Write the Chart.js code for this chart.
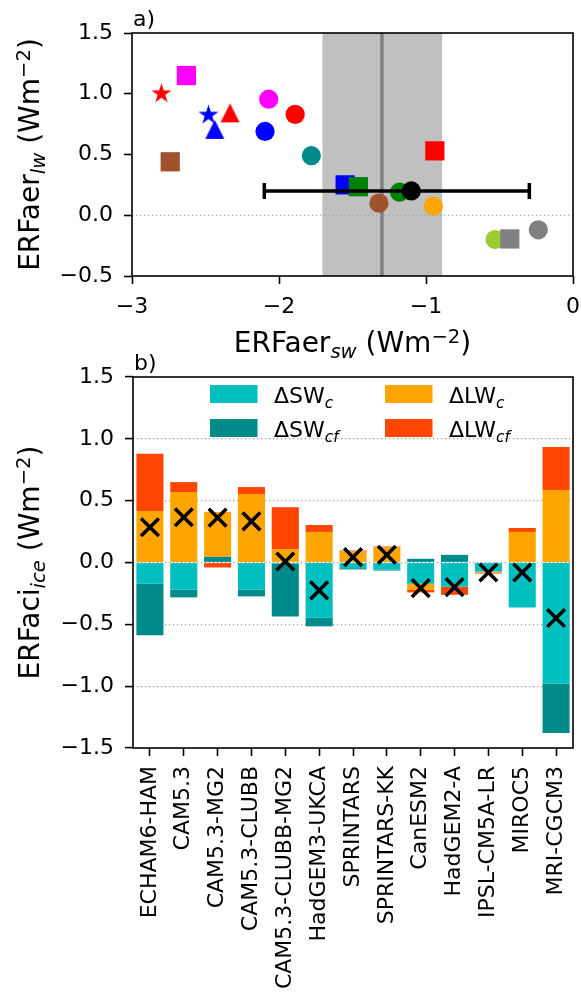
<!DOCTYPE html>
<html>
<head>
<meta charset="utf-8">
<script src="https://cdn.jsdelivr.net/npm/chart.js@4.4.1/dist/chart.umd.min.js"></script>
<style>
html,body{margin:0;padding:0;background:#fff;}
#wrap{position:relative;width:581px;height:995px;overflow:hidden;}
canvas{position:absolute;left:0;top:0;}
</style>
</head>
<body>
<div id="wrap">
<canvas id="c1" width="581" height="995" style="width:581px;height:995px"></canvas>
<canvas id="c2" width="581" height="995" style="width:581px;height:995px"></canvas>
</div>
<script>
// ---------------- DATA: panel a) ----------------
const erfaerSW = [-2.80, -2.63, -2.74, -2.48, -2.333, -2.437, -2.07, -1.89, -2.095, -1.78, -0.94, -1.55, -1.46, -1.32, -1.18, -0.95, -0.53, -0.43, -0.236];
const erfaerLW = [1.00, 1.15, 0.44, 0.825, 0.843, 0.707, 0.955, 0.83, 0.69, 0.49, 0.53, 0.25, 0.235, 0.10, 0.19, 0.076, -0.20, -0.195, -0.12];
const meanSW = -1.10;
const meanLW = 0.20;
const meanSWrange = [-2.10, -0.297];
const obsBandSW = [-1.705, -0.89];
const obsSW = -1.30;
const xTicksA = [-3, -2, -1, 0];
const yTicksA = [-0.5, 0.0, 0.5, 1.0, 1.5];

// styles of the panel a) markers (not data)
const markerColors = ['#ff0000', '#ff00ff', '#a0522d', '#0000ff', '#ff0000', '#0000ff', '#ff00ff', '#ff0000', '#0000ff', '#008b8b', '#ff0000', '#0000ff', '#008000', '#a0522d', '#008000', '#ffa500', '#9acd32', '#808080', '#808080'];
const markerShapes = ['star', 'square', 'square', 'star', 'triangle', 'triangle', 'circle', 'circle', 'circle', 'circle', 'square', 'square', 'square', 'circle', 'circle', 'circle', 'circle', 'square', 'circle'];

// ---------------- DATA: panel b) ----------------
const models = ['ECHAM6-HAM', 'CAM5.3', 'CAM5.3-MG2', 'CAM5.3-CLUBB', 'CAM5.3-CLUBB-MG2', 'HadGEM3-UKCA', 'SPRINTARS', 'SPRINTARS-KK', 'CanESM2', 'HadGEM2-A', 'IPSL-CM5A-LR', 'MIROC5', 'MRI-CGCM3'];
const dSWc  = [-0.172, -0.220, 0.000, -0.220, -0.011, -0.446, -0.046, -0.059, -0.172, -0.196, -0.073, -0.363, -0.978];
const dSWcf = [-0.417, -0.062, 0.046, -0.054, -0.425, -0.070, -0.010, -0.006, 0.030, 0.062, 0.005, 0.000, -0.400];
const dLWc  = [0.417, 0.570, 0.363, 0.554, 0.108, 0.247, 0.089, 0.121, -0.048, 0.000, -0.008, 0.247, 0.586];
const dLWcf = [0.463, 0.080, -0.040, 0.056, 0.339, 0.056, 0.008, 0.008, -0.022, -0.065, -0.008, 0.032, 0.347];
const erfaciIce = [0.285, 0.366, 0.363, 0.333, 0.008, -0.226, 0.043, 0.062, -0.207, -0.199, -0.081, -0.081, -0.449];
const yTicksB = [-1.5, -1.0, -0.5, 0.0, 0.5, 1.0, 1.5];

// ---------------- helpers ----------------
const FAM = "'DejaVu Sans', sans-serif";
const minus = '\u2212';
const fmt1 = v => (v < 0 ? minus : '') + Math.abs(v).toFixed(1);
const fmt0 = v => (v < 0 ? minus : '') + Math.abs(v).toString();
function starImage(color, R) {
  const s = Math.ceil(R * 2 + 2);
  const c = document.createElement('canvas'); c.width = s; c.height = s;
  const g = c.getContext('2d'); const cx = s / 2, cy = s / 2, r = R * 0.381966;
  g.beginPath();
  for (let k = 0; k < 10; k++) { const a = -Math.PI / 2 + k * Math.PI / 5; const rr = (k % 2) ? r : R; g.lineTo(cx + rr * Math.cos(a), cy + rr * Math.sin(a)); }
  g.closePath(); g.fillStyle = color; g.fill(); return c;
}
function triImage(color, w) {
  const s = Math.ceil(w + 2);
  const c = document.createElement('canvas'); c.width = s; c.height = s;
  const g = c.getContext('2d'); const cx = s / 2, cy = s / 2, h = w / 2;
  g.beginPath(); g.moveTo(cx, cy - h); g.lineTo(cx + h, cy + h); g.lineTo(cx - h, cy + h);
  g.closePath(); g.fillStyle = color; g.fill(); return c;
}
function shapeStyle(shape, color) {
  if (shape === 'star') return starImage(color, 10.5);
  if (shape === 'triangle') return triImage(color, 19);
  if (shape === 'square') return 'rect';
  return 'circle';
}
function shapeRadius(shape) { if (shape === 'square') return 13.6; if (shape === 'circle') return 9.6; return 10; }
function rich(ctx, parts, x, y, rot, align) {
  ctx.save(); ctx.translate(x, y); if (rot) ctx.rotate(rot);
  ctx.textBaseline = 'alphabetic'; ctx.textAlign = 'left'; ctx.fillStyle = '#000';
  const fontOf = p => (p.it ? 'italic ' : '') + p.s + 'px ' + FAM;
  const widths = parts.map(p => { ctx.font = fontOf(p); return ctx.measureText(p.t).width; });
  const total = widths.reduce((a, b) => a + b, 0);
  let cx = align === 'center' ? -total / 2 : 0;
  parts.forEach((p, i) => { ctx.font = fontOf(p); ctx.fillText(p.t, cx, p.dy || 0); cx += widths[i]; });
  ctx.restore();
}
function labelParts(main, sub) {
  return [{t: main, s: 28}, {t: sub, s: 19.6, it: true, dy: 5.5}, {t: ' (Wm', s: 28}, {t: minus + '2', s: 19.6, dy: -9}, {t: ')', s: 28}];
}
function spines(ctx, a) {
  ctx.save(); ctx.strokeStyle = '#000'; ctx.lineWidth = 1.6;
  ctx.strokeRect(a.left, a.top, a.right - a.left, a.bottom - a.top); ctx.restore();
}
function noPad(s) { s.paddingLeft = 0; s.paddingRight = 0; s.paddingTop = 0; s.paddingBottom = 0; }
const tickFont = {family: FAM, size: 22};
const axisGrid = {drawOnChartArea: false, drawTicks: true, tickLength: 8, tickColor: '#000', tickWidth: 1.6, color: '#000'};

// ---------------- panel a) ----------------
const topPlugin = {
  id: 'topDecor',
  beforeDatasetsDraw(chart) {
    const {ctx, chartArea: a, scales: {x, y}} = chart;
    ctx.save(); ctx.beginPath(); ctx.rect(a.left, a.top, a.right - a.left, a.bottom - a.top); ctx.clip();
    const x0 = x.getPixelForValue(obsBandSW[0]), x1 = x.getPixelForValue(obsBandSW[1]);
    ctx.fillStyle = '#c0c0c0'; ctx.fillRect(x0, a.top, x1 - x0, a.bottom - a.top);
    const xm = x.getPixelForValue(obsSW);
    ctx.strokeStyle = '#808080'; ctx.lineWidth = 3.5;
    ctx.beginPath(); ctx.moveTo(xm, a.top); ctx.lineTo(xm, a.bottom); ctx.stroke();
    const y0 = y.getPixelForValue(0);
    ctx.strokeStyle = '#9a9a9a'; ctx.lineWidth = 1.2; ctx.setLineDash([1.2, 2.8]);
    ctx.beginPath(); ctx.moveTo(a.left, y0); ctx.lineTo(a.right, y0); ctx.stroke();
    ctx.restore();
  },
  afterDatasetDraw(chart, args) {
    if (args.index !== 1) return;
    const {ctx, scales: {x, y}} = chart;
    const xa = x.getPixelForValue(meanSWrange[0]), xb = x.getPixelForValue(meanSWrange[1]);
    const ym = y.getPixelForValue(meanLW);
    ctx.save(); ctx.strokeStyle = '#000'; ctx.lineWidth = 3.5; ctx.beginPath();
    ctx.moveTo(xa, ym); ctx.lineTo(xb, ym);
    ctx.moveTo(xa, ym - 8); ctx.lineTo(xa, ym + 8);
    ctx.moveTo(xb, ym - 8); ctx.lineTo(xb, ym + 8);
    ctx.stroke(); ctx.restore();
  },
  afterDraw(chart) {
    const {ctx, chartArea: a} = chart;
    spines(ctx, a);
    rich(ctx, labelParts('ERFaer', 'sw'), (a.left + a.right) / 2, 352, 0, 'center');
    rich(ctx, labelParts('ERFaer', 'lw'), 39, (a.top + a.bottom) / 2, -Math.PI / 2, 'center');
    rich(ctx, [{t: 'a)', s: 22}], a.left + 1, a.top - 7, 0, 'left');
  }
};

new Chart(document.getElementById('c1'), {
  type: 'scatter',
  data: {datasets: [
    {label: 'mean', data: [{x: meanSW, y: meanLW}], pointRadius: 9.6, pointBackgroundColor: '#000', pointBorderWidth: 0, order: 1},
    {label: 'models', data: erfaerSW.map((v, i) => ({x: v, y: erfaerLW[i]})), pointStyle: markerShapes.map((s, i) => shapeStyle(s, markerColors[i])), pointRadius: markerShapes.map(shapeRadius), pointBackgroundColor: markerColors, pointBorderWidth: 0, order: 2}
  ]},
  options: {
    responsive: false, animation: false, events: [],
    layout: {autoPadding: false, padding: {left: 0, right: 8, top: 33, bottom: 995 - 276 - 40}},
    plugins: {legend: {display: false}, tooltip: {enabled: false}},
    scales: {
      x: {type: 'linear', min: -3, max: 0, afterFit: s => { s.height = 40; noPad(s); },
        afterBuildTicks: s => { s.ticks = xTicksA.map(v => ({value: v})); },
        ticks: {font: tickFont, color: '#000', padding: 10, callback: v => fmt0(v), maxRotation: 0},
        grid: axisGrid, border: {display: false}},
      y: {type: 'linear', min: -0.5, max: 1.5, afterFit: s => { s.width = 132; noPad(s); },
        afterBuildTicks: s => { s.ticks = yTicksA.map(v => ({value: v})); },
        ticks: {font: tickFont, color: '#000', padding: 11, callback: v => fmt1(v)},
        grid: axisGrid, border: {display: false}}
    }
  },
  plugins: [topPlugin]
});

// ---------------- panel b) ----------------
const barColors = {SWc: '#00bfbf', SWcf: '#008b8b', LWc: '#ffa500', LWcf: '#ff4500'};
const bottomPlugin = {
  id: 'bottomDecor',
  afterDraw(chart) {
    const {ctx, chartArea: a} = chart;
    spines(ctx, a);
    rich(ctx, labelParts('ERFaci', 'ice'), 39, (a.top + a.bottom) / 2, -Math.PI / 2, 'center');
    rich(ctx, [{t: 'b)', s: 22}], a.left + 1, a.top - 7, 0, 'left');
    const items = [
      {c: barColors.SWc, m: '\u0394SW', s: 'c', x: 210, y: 385},
      {c: barColors.SWcf, m: '\u0394SW', s: 'cf', x: 210, y: 419},
      {c: barColors.LWc, m: '\u0394LW', s: 'c', x: 385, y: 385},
      {c: barColors.LWcf, m: '\u0394LW', s: 'cf', x: 385, y: 419}
    ];
    items.forEach(it => {
      ctx.save(); ctx.fillStyle = it.c; ctx.fillRect(it.x, it.y, 47.5, 18); ctx.restore();
      rich(ctx, [{t: it.m, s: 22}, {t: it.s, s: 15.4, it: true, dy: 4.5}], it.x + 64, it.y + 18, 0, 'left');
    });
  }
};
new Chart(document.getElementById('c2'), {
  type: 'bar',
  data: {labels: models, datasets: [
    {type: 'line', label: 'ERFaci_ice', data: erfaciIce, showLine: false, pointStyle: 'crossRot', pointRadius: 12.5, pointBorderWidth: 3.5, pointBorderColor: '#000', pointBackgroundColor: '#000', stack: 'net', order: 0},
    {label: 'SWc', data: dSWc, backgroundColor: barColors.SWc, stack: 'comp', order: 1},
    {label: 'SWcf', data: dSWcf, backgroundColor: barColors.SWcf, stack: 'comp', order: 1},
    {label: 'LWc', data: dLWc, backgroundColor: barColors.LWc, stack: 'comp', order: 1},
    {label: 'LWcf', data: dLWcf, backgroundColor: barColors.LWcf, stack: 'comp', order: 1}
  ]},
  options: {
    responsive: false, animation: false, events: [],
    layout: {autoPadding: false, padding: {left: 0, right: 8, top: 377, bottom: 0}},
    datasets: {bar: {barPercentage: 0.8, categoryPercentage: 1.0, borderWidth: 0}},
    plugins: {legend: {display: false}, tooltip: {enabled: false}},
    scales: {
      x: {stacked: true, offset: true, afterFit: s => { s.height = 995 - 748; noPad(s); },
        ticks: {font: tickFont, color: '#000', autoSkip: false, maxRotation: 90, minRotation: 90, padding: 10},
        grid: Object.assign({}, axisGrid, {offset: false}), border: {display: false}},
      y: {stacked: true, min: -1.5, max: 1.5, afterFit: s => { s.width = 133; noPad(s); },
        afterBuildTicks: s => { s.ticks = yTicksB.map(v => ({value: v})); },
        ticks: {font: tickFont, color: '#000', padding: 11, callback: v => fmt1(v)},
        grid: {drawOnChartArea: true, drawTicks: true, tickLength: 8, tickWidth: 1.6, tickColor: '#000', lineWidth: 1.2, tickBorderDash: [],
          color: c => (Math.abs(c.tick.value) < 1.4 ? '#9a9a9a' : 'rgba(0,0,0,0)')},
        border: {display: false, dash: [1.2, 2.8]}}
    }
  },
  plugins: [bottomPlugin]
});
</script>
</body>
</html>
